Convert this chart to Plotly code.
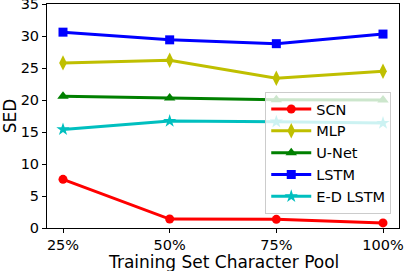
import plotly.graph_objects as go

pools = ["25%", "50%", "75%", "100%"]
scn = [7.6, 1.4, 1.35, 0.8]
mlp = [25.8, 26.2, 23.4, 24.5]
unet = [20.6, 20.3, 20.05, 20.0]
lstm = [30.6, 29.4, 28.8, 30.3]
edlstm = [15.4, 16.7, 16.6, 16.4]

series = [
    ("SCN", scn, "#ff0000", "circle", 9),
    ("MLP", mlp, "#bfbf00", "diamond-tall", 11),
    ("U-Net", unet, "#008000", "triangle-up", 10),
    ("LSTM", lstm, "#0000ff", "square", 9),
    ("E-D LSTM", edlstm, "#00bfbf", "star", 10),
]

xpos = list(range(len(pools)))
fig = go.Figure()
for name, vals, col, sym, sz in series:
    fig.add_trace(go.Scatter(
        x=xpos, y=vals, name=name, mode="lines+markers",
        line=dict(color=col, width=3),
        marker=dict(symbol=sym, size=sz, color=col, line=dict(width=0)),
    ))

font = "DejaVu Sans"
fig.update_layout(
    width=407, height=271,
    margin=dict(l=47, r=8, t=4, b=43, autoexpand=False),
    plot_bgcolor="white", paper_bgcolor="white",
    font=dict(family=font, size=14.5, color="black"),
    showlegend=True,
    legend=dict(
        x=0.62, y=0.607, xanchor="left", yanchor="top",
        bgcolor="rgba(255,255,255,0.8)", bordercolor="#cccccc", borderwidth=1,
        font=dict(size=14.5), tracegroupgap=0, itemwidth=40,
    ),
    xaxis=dict(
        range=[-0.15, 3.15], tickmode="array", tickvals=xpos, ticktext=pools,
        showgrid=False, zeroline=False, showline=True, linecolor="black",
        linewidth=1, mirror=True, ticks="outside", ticklen=4, tickcolor="black",
        tickfont=dict(size=14.5), automargin=False, ticklabeloverflow="allow",
    ),
    yaxis=dict(
        range=[0, 35], tickmode="array", tickvals=[0, 5, 10, 15, 20, 25, 30, 35],
        showgrid=False, zeroline=False, showline=True, linecolor="black",
        linewidth=1, mirror=True, ticks="outside", ticklen=4, tickcolor="black",
        title=dict(text="SED", font=dict(size=17), standoff=3),
        tickfont=dict(size=14.5), automargin=False, ticklabeloverflow="allow",
    ),
    annotations=[dict(
        text="Training Set Character Pool", xref="paper", yref="paper",
        x=0.5, y=-(249.5 - 228) / 224, xanchor="center", yanchor="top",
        showarrow=False, font=dict(size=17, family=font, color="black"),
    )],
)

fig.write_html(
    "out.html",
    config={"displayModeBar": False},
    post_script="document.body.style.margin='0';document.body.style.padding='0';document.body.style.overflow='hidden';",
)
